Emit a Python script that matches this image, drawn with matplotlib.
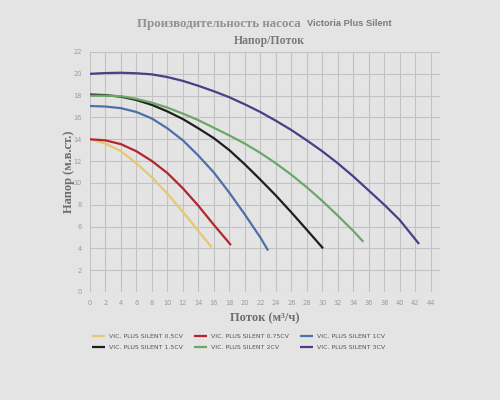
import matplotlib
matplotlib.use("Agg")
import matplotlib.pyplot as plt

# pump curves: flow (m3/h) vs head (m)
q_05 = [0, 2, 4, 6, 8, 10, 12, 14, 15.7]
h_05 = [14.0, 13.6, 12.9, 11.8, 10.5, 9.0, 7.35, 5.6, 4.1]

q_075 = [0, 2, 4, 6, 8, 10, 12, 14, 16, 18.2]
h_075 = [14.0, 13.9, 13.55, 12.9, 12.0, 10.9, 9.5, 7.9, 6.15, 4.3]

q_1 = [0, 2, 4, 6, 8, 10, 12, 14, 16, 18, 20, 22, 23.0]
h_1 = [17.05, 17.0, 16.85, 16.5, 15.9, 15.0, 13.9, 12.5, 10.95, 9.1, 7.1, 5.0, 3.8]

q_15 = [0, 2, 4, 6, 8, 10, 12, 14, 16, 18, 20, 22, 24, 26, 28, 30.1]
h_15 = [18.1, 18.05, 17.9, 17.6, 17.15, 16.55, 15.85, 15.0, 14.1, 13.0, 11.7, 10.3, 8.85, 7.3, 5.7, 4.0]

q_2 = [0, 2, 4, 6, 8, 10, 12, 14, 16, 18, 20, 22, 24, 26, 28, 30, 32, 34, 35.3]
h_2 = [18.0, 18.0, 17.95, 17.7, 17.35, 16.9, 16.35, 15.75, 15.05, 14.35, 13.6, 12.75,
       11.8, 10.75, 9.6, 8.35, 7.0, 5.6, 4.6]

q_3 = [0, 2, 4, 6, 8, 10, 12, 14, 16, 18, 20, 22, 24, 26, 28, 30, 32, 34, 36, 38, 40, 42.5]
h_3 = [20.0, 20.07, 20.1, 20.05, 19.95, 19.7, 19.35, 18.9, 18.4, 17.85, 17.2, 16.5,
       15.7, 14.85, 13.9, 12.9, 11.8, 10.6, 9.3, 8.0, 6.6, 4.4]

labels = ["VIC. PLUS SILENT 0.5CV", "VIC. PLUS SILENT 0.75CV", "VIC. PLUS SILENT 1CV",
          "VIC. PLUS SILENT 1.5CV", "VIC. PLUS SILENT 2CV", "VIC. PLUS SILENT 3CV"]
colors = ["#e6c86e", "#b42431", "#4c70a8", "#1e1e1e", "#6aa86a", "#4a3f86"]

x_ticks = list(range(0, 45, 2))
y_ticks = list(range(0, 23, 2))

bg = "#e4e4e4"
fig = plt.figure(figsize=(5, 4), dpi=100, facecolor=bg)
ax = fig.add_axes([0.18, 0.27, 0.70, 0.60], facecolor=bg)

series = [(q_05, h_05), (q_075, h_075), (q_1, h_1), (q_15, h_15), (q_2, h_2), (q_3, h_3)]
lines = []
for (q, h), c, lab in zip(series, colors, labels):
    ln, = ax.plot(q, h, color=c, lw=1.6, label=lab, solid_capstyle="butt",
                  solid_joinstyle="round", zorder=3)
    lines.append(ln)

ax.set_xlim(0, 45.2)
ax.set_ylim(0, 22)
ax.set_xticks(x_ticks)
ax.set_yticks(y_ticks)
ax.grid(True, color="#c2c2c2", lw=0.8)
for s in ax.spines.values():
    s.set_visible(False)
ax.tick_params(length=0, labelsize=4.8, colors="#9a9a9a", pad=6)

serif = ["Liberation Serif", "DejaVu Serif"]
ax.set_xlabel("Поток (м³/ч)", family=serif, fontweight="bold", fontsize=9,
              color="#6e6e6e", labelpad=4)
ax.set_ylabel("Напор (м.в.ст.)", family=serif, fontweight="bold", fontsize=9,
              color="#6e6e6e", labelpad=-1)

fig.text(0.608, 0.94, "Производительность насоса ", family=serif, fontweight="bold",
         fontsize=9.3, color="#929292", ha="right", va="center")
fig.text(0.614, 0.94, "Victoria Plus Silent", family=["Liberation Sans", "DejaVu Sans"],
         fontweight="bold", fontsize=6.7, color="#7a7a7a", ha="left", va="center")
fig.text(0.539, 0.898, "Напор/Поток", family=serif, fontweight="bold",
         fontsize=8.5, color="#7a7a7a", ha="center", va="center")

order = [0, 3, 1, 4, 2, 5]
leg = fig.legend([lines[i] for i in order], [labels[i] for i in order], ncol=3,
                 loc="upper left", bbox_to_anchor=(0.172, 0.18), frameon=False,
                 fontsize=4.5, handlelength=2.1, columnspacing=1.8, labelspacing=0.9,
                 handletextpad=0.65)
for t in leg.get_texts():
    t.set_color("#555555")

fig.savefig("out.png", dpi=100, facecolor=bg)
